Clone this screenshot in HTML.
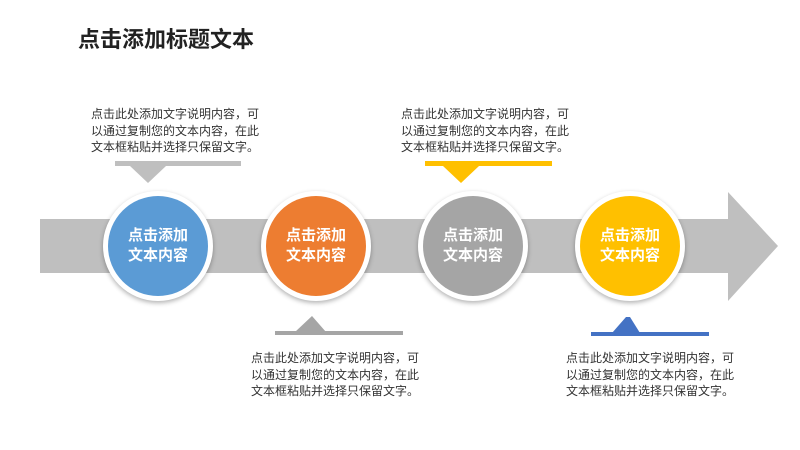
<!DOCTYPE html>
<html><head><meta charset="utf-8"><style>
body{margin:0;width:800px;height:450px;background:#fff;position:relative;overflow:hidden;font-family:"Liberation Sans","Noto Sans CJK SC",sans-serif}
.t{position:absolute;font-size:12px;line-height:16.6px;color:#333;white-space:nowrap}
.title{position:absolute;left:78px;top:22px;font-size:22px;font-weight:bold;color:#222;letter-spacing:0}
.c{position:absolute;width:110px;height:110px;border-radius:50%;background:#fff;box-shadow:0 2px 5px rgba(0,0,0,.3)}
.c div{position:absolute;left:5px;top:5px;width:100px;height:100px;border-radius:50%;color:#fff;font-weight:bold;font-size:15px;line-height:20px;display:flex;align-items:center;justify-content:center;text-align:center}
</style></head><body>
<div class="title">点击添加标题文本</div>
<svg width="800" height="450" style="position:absolute;left:0;top:0">
<polygon points="40,219 728,219 728,192 778,246 728,301 728,273 40,273" fill="#bfbfbf"/>
<rect x="115" y="161" width="126" height="5" fill="#bfbfbf"/>
<polygon points="130,166 166,166 148,183" fill="#bfbfbf"/>
<rect x="425" y="161" width="127" height="5" fill="#ffc000"/>
<polygon points="443,166 479,166 461,183" fill="#ffc000"/>
<rect x="275" y="331" width="128" height="4" fill="#a5a5a5"/>
<polygon points="295,332 326,332 312,316" fill="#a5a5a5"/>
<rect x="591" y="332" width="118" height="4" fill="#4472c4"/>
<polygon points="612,333 640,333 630,317 626,317" fill="#4472c4"/>
</svg>
<div class="c" style="left:103px;top:191px"><div style="background:#5b9bd5">点击添加<br>文本内容</div></div>
<div class="c" style="left:261px;top:191px"><div style="background:#ed7d31">点击添加<br>文本内容</div></div>
<div class="c" style="left:418px;top:191px"><div style="background:#a5a5a5">点击添加<br>文本内容</div></div>
<div class="c" style="left:575px;top:191px"><div style="background:#ffc000">点击添加<br>文本内容</div></div>
<div class="t" style="left:91px;top:106px">点击此处添加文字说明内容，可<br>以通过复制您的文本内容，在此<br>文本框粘贴并选择只保留文字。</div>
<div class="t" style="left:401px;top:106px">点击此处添加文字说明内容，可<br>以通过复制您的文本内容，在此<br>文本框粘贴并选择只保留文字。</div>
<div class="t" style="left:251px;top:350px">点击此处添加文字说明内容，可<br>以通过复制您的文本内容，在此<br>文本框粘贴并选择只保留文字。</div>
<div class="t" style="left:566px;top:350px">点击此处添加文字说明内容，可<br>以通过复制您的文本内容，在此<br>文本框粘贴并选择只保留文字。</div>
</body></html>
